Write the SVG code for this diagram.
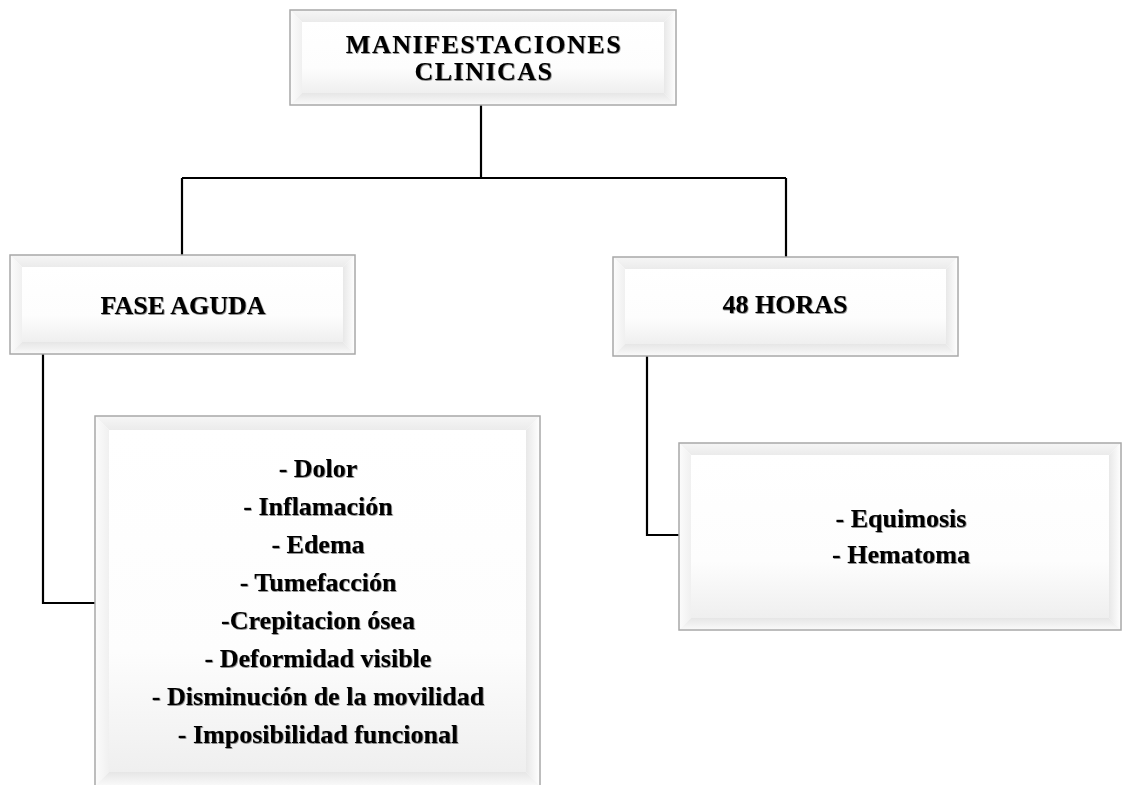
<svg xmlns="http://www.w3.org/2000/svg" width="1122" height="785" viewBox="0 0 1122 785">
<defs>
<linearGradient id="gFace" x1="0" y1="0" x2="0" y2="1"><stop offset="0" stop-color="#ffffff"/><stop offset="0.65" stop-color="#fdfdfd"/><stop offset="1" stop-color="#efefef"/></linearGradient>
<linearGradient id="gTop" x1="0" y1="0" x2="0" y2="1"><stop offset="0" stop-color="#f6f6f6"/><stop offset="1" stop-color="#ebebeb"/></linearGradient>
<linearGradient id="gLeft" x1="0" y1="0" x2="1" y2="0"><stop offset="0" stop-color="#fcfcfc"/><stop offset="1" stop-color="#f0f0f0"/></linearGradient>
<linearGradient id="gRight" x1="1" y1="0" x2="0" y2="0"><stop offset="0" stop-color="#ffffff"/><stop offset="1" stop-color="#e8e8e8"/></linearGradient>
<linearGradient id="gBot" x1="0" y1="1" x2="0" y2="0"><stop offset="0" stop-color="#fafafa"/><stop offset="1" stop-color="#e6e6e6"/></linearGradient>
<filter id="sh" x="-5%" y="-20%" width="110%" height="140%"><feDropShadow dx="0.7" dy="0.7" stdDeviation="0.6" flood-color="#000" flood-opacity="0.6"/></filter>
</defs>
<style>
.top{fill:url(#gTop)}
.lf{fill:url(#gLeft)}
.rt{fill:url(#gRight)}
.bt{fill:url(#gBot)}
.face{fill:url(#gFace)}
.edge{fill:none;stroke:#a8a8a8;stroke-width:1.5}
.t{font-family:"Liberation Serif","Times New Roman",serif;font-weight:bold;font-size:26px;fill:#000;text-anchor:middle;filter:url(#sh)}
.conn{fill:none;stroke:#000;stroke-width:2.2}
</style>
<g id="connectors">
<path class="conn" d="M481,105 V178"/>
<path class="conn" d="M182,178 H786"/>
<path class="conn" d="M182,178 V255"/>
<path class="conn" d="M786,178 V257"/>
<path class="conn" d="M43,354 V603 H95"/>
<path class="conn" d="M647,356 V535 H679"/>
</g>
<g id="node-manifestaciones">
<polygon class="top" points="290,10 676,10 664,22 302,22"/>
<polygon class="lf" points="290,10 302,22 302,93 290,105"/>
<polygon class="rt" points="676,10 676,105 664,93 664,22"/>
<polygon class="bt" points="290,105 302,93 664,93 676,105"/>
<rect class="face" x="302" y="22" width="362" height="71"/>
<rect class="edge" x="290" y="10" width="386" height="95"/>
<text class="t" x="484" y="53" letter-spacing="1.5">MANIFESTACIONES</text>
<text class="t" x="484" y="80" letter-spacing="1.5">CLINICAS</text>
</g>
<g id="node-fase-aguda">
<polygon class="top" points="10,255 355,255 343,267 22,267"/>
<polygon class="lf" points="10,255 22,267 22,342 10,354"/>
<polygon class="rt" points="355,255 355,354 343,342 343,267"/>
<polygon class="bt" points="10,354 22,342 343,342 355,354"/>
<rect class="face" x="22" y="267" width="321" height="75"/>
<rect class="edge" x="10" y="255" width="345" height="99"/>
<text class="t" x="183" y="314">FASE AGUDA</text>
</g>
<g id="node-48-horas">
<polygon class="top" points="613,257 958,257 946,269 625,269"/>
<polygon class="lf" points="613,257 625,269 625,344 613,356"/>
<polygon class="rt" points="958,257 958,356 946,344 946,269"/>
<polygon class="bt" points="613,356 625,344 946,344 958,356"/>
<rect class="face" x="625" y="269" width="321" height="75"/>
<rect class="edge" x="613" y="257" width="345" height="99"/>
<text class="t" x="785" y="313">48 HORAS</text>
</g>
<g id="node-fase-aguda-list">
<polygon class="top" points="95,416 540,416 526,430 109,430"/>
<polygon class="lf" points="95,416 109,430 109,772 95,786"/>
<polygon class="rt" points="540,416 540,786 526,772 526,430"/>
<polygon class="bt" points="95,786 109,772 526,772 540,786"/>
<rect class="face" x="109" y="430" width="417" height="342"/>
<rect class="edge" x="95" y="416" width="445" height="370"/>
<text class="t" x="318" y="477">- Dolor</text>
<text class="t" x="318" y="515">- Inflamación</text>
<text class="t" x="318" y="553">- Edema</text>
<text class="t" x="318" y="591">- Tumefacción</text>
<text class="t" x="318" y="629">-Crepitacion ósea</text>
<text class="t" x="318" y="667">- Deformidad visible</text>
<text class="t" x="318" y="705">- Disminución de la movilidad</text>
<text class="t" x="318" y="743">- Imposibilidad funcional</text>
</g>
<g id="node-48-horas-list">
<polygon class="top" points="679,443 1121,443 1109,455 691,455"/>
<polygon class="lf" points="679,443 691,455 691,618 679,630"/>
<polygon class="rt" points="1121,443 1121,630 1109,618 1109,455"/>
<polygon class="bt" points="679,630 691,618 1109,618 1121,630"/>
<rect class="face" x="691" y="455" width="418" height="163"/>
<rect class="edge" x="679" y="443" width="442" height="187"/>
<text class="t" x="901" y="527">- Equimosis</text>
<text class="t" x="901" y="563">- Hematoma</text>
</g>
</svg>
